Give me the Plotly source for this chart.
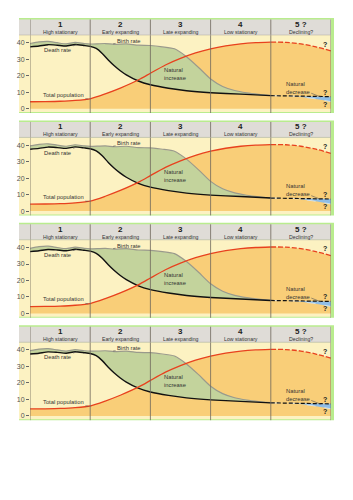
import plotly.graph_objects as go

W, H = 353, 500

# ---------------- data ----------------
stage_numbers = ["1", "2", "3", "4", "5 ?"]
stage_names = ["High stationary", "Early expanding", "Late expanding", "Low stationary", "Declining?"]
stage_centers = [0.5, 1.5, 2.5, 3.5, 4.5]
stage_bounds = [0, 1, 2, 3, 4, 5]
y_ticks = [0, 10, 20, 30, 40]

birth_x = [0, 0.15, 0.3, 0.45, 0.6, 0.75, 0.9, 1.0, 1.25, 1.4, 1.6, 1.8, 2.0, 2.2, 2.4, 2.6, 2.8, 3.0, 3.2, 3.4, 3.6, 3.8, 4.0]
birth_y = [39.5, 40.5, 40.8, 40.0, 39.3, 40.2, 39.5, 39.2, 39.5, 39.0, 39.3, 38.5, 38.3, 37.5, 36.3, 31.5, 25.0, 18.0, 13.5, 11.0, 9.6, 8.7, 8.0]

death_x = [0, 0.15, 0.3, 0.45, 0.6, 0.75, 0.9, 1.0, 1.1, 1.2, 1.3, 1.4, 1.5, 1.6, 1.8, 2.0, 2.3, 2.6, 3.0, 3.5, 4.0]
death_y = [37.5, 38.0, 38.8, 38.5, 38.0, 38.9, 38.3, 37.8, 36.5, 33.5, 29.5, 26.0, 23.0, 20.5, 16.8, 14.5, 12.4, 10.9, 9.7, 8.8, 7.9]

death5_x = [4.0, 4.5, 5.0]
death5_y = [7.9, 7.6, 7.3]
birth5_x = [4.0, 4.4, 4.7, 5.0]
birth5_y = [7.9, 7.6, 6.2, 4.3]

pop_x = [0, 0.25, 0.5, 0.75, 1.0, 1.25, 1.5, 1.83, 2.0, 2.25, 2.5, 2.75, 3.0, 3.25, 3.5, 3.75, 4.0]
pop_y = [4.2, 4.3, 4.5, 5.0, 6.0, 9.0, 12.5, 18.0, 21.5, 26.5, 30.5, 33.8, 36.3, 38.1, 39.3, 40.0, 40.3]
pop5_x = [4.0, 4.25, 4.5, 4.75, 5.0]
pop5_y = [40.3, 40.2, 39.3, 37.5, 35.0]

# ---------------- style ----------------
PALE = "#fcf2c2"
ORANGE = "#f9ce78"
GREEN = "#c3d39c"
BLUE = "#8fbde6"
HEADER = "#dfdcd7"
BORDER = "#b9ec8e"
STAGE_LINE = "#6e675c"
TXT = "#333333"
FONT = "Liberation Sans, Arial, sans-serif"

PANEL_STEP = 102.4
N = 4

fig = go.Figure()
shapes = []
annotations = []


def px_x(p):
    return p / W


def px_y(p):
    return 1 - p / H


for i in range(N):
    n = i + 1
    off = i * PANEL_STEP
    xa = "x" if n == 1 else f"x{n}"
    ya = "y" if n == 1 else f"y{n}"
    base = 18 + off
    head_top = base + 1.5
    head_bot = base + 17
    plot_bot = base + 93

    fig.update_layout(**{
        ("xaxis" if n == 1 else f"xaxis{n}"): dict(
            domain=[px_x(30), px_x(331)], range=[0, 5], anchor=ya,
            showticklabels=False, showgrid=False, zeroline=False, showline=False,
            fixedrange=True),
        ("yaxis" if n == 1 else f"yaxis{n}"): dict(
            domain=[px_y(plot_bot), px_y(head_bot)], range=[-1.4, 44.67], anchor=xa,
            tickvals=y_ticks, ticks="outside", ticklen=3, tickwidth=0.8, tickcolor="#666",
            tickfont=dict(size=7, color="#555", family=FONT),
            showgrid=False, zeroline=False, showline=False, fixedrange=True),
    })

    # background shapes
    shapes.append(dict(type="rect", xref="paper", yref="paper", layer="below",
                       x0=px_x(19), x1=px_x(334), y0=px_y(plot_bot + 2), y1=px_y(base),
                       fillcolor=BORDER, line=dict(width=0)))
    shapes.append(dict(type="rect", xref="paper", yref="paper", layer="below",
                       x0=px_x(19), x1=px_x(331), y0=px_y(plot_bot + 1), y1=px_y(head_bot),
                       fillcolor=PALE, line=dict(width=0)))
    shapes.append(dict(type="rect", xref="paper", yref="paper", layer="below",
                       x0=px_x(19), x1=px_x(331), y0=px_y(head_bot), y1=px_y(head_top),
                       fillcolor=HEADER, line=dict(width=0)))
    for b in stage_bounds:
        shapes.append(dict(type="line", xref=xa, yref="paper", layer="above",
                           x0=b, x1=b, y0=px_y(plot_bot + 2), y1=px_y(head_top),
                           line=dict(color=STAGE_LINE, width=0.8)))
    shapes.append(dict(type="line", xref="paper", yref="paper", layer="above",
                       x0=px_x(19), x1=px_x(331), y0=px_y(head_bot), y1=px_y(head_bot),
                       line=dict(color="#b8b3a8", width=0.6)))

    # fills
    fig.add_trace(go.Scatter(x=pop_x + pop5_x[1:], y=pop_y + pop5_y[1:], fill="tozeroy",
                             fillcolor=ORANGE, line=dict(width=0), mode="lines",
                             xaxis=xa, yaxis=ya, hoverinfo="skip"))
    fig.add_trace(go.Scatter(x=death_x, y=death_y, mode="lines", line=dict(width=0),
                             xaxis=xa, yaxis=ya, hoverinfo="skip"))
    fig.add_trace(go.Scatter(x=birth_x, y=birth_y, mode="lines", fill="tonexty",
                             fillcolor=GREEN, line=dict(width=0),
                             xaxis=xa, yaxis=ya, hoverinfo="skip"))
    fig.add_trace(go.Scatter(x=death5_x, y=death5_y, mode="lines", line=dict(width=0),
                             xaxis=xa, yaxis=ya, hoverinfo="skip"))
    fig.add_trace(go.Scatter(x=birth5_x, y=birth5_y, mode="lines", fill="tonexty",
                             fillcolor=BLUE, line=dict(width=0),
                             xaxis=xa, yaxis=ya, hoverinfo="skip"))

    # lines
    fig.add_trace(go.Scatter(x=birth_x, y=birth_y, mode="lines",
                             line=dict(color="#9a9a8c", width=1.2, shape="spline", smoothing=0.6),
                             xaxis=xa, yaxis=ya, hoverinfo="skip"))
    fig.add_trace(go.Scatter(x=birth5_x, y=birth5_y, mode="lines",
                             line=dict(color="#d7e8f6", width=0.8, dash="dash"),
                             xaxis=xa, yaxis=ya, hoverinfo="skip"))
    fig.add_trace(go.Scatter(x=death_x, y=death_y, mode="lines",
                             line=dict(color="#111111", width=1.4, shape="spline", smoothing=0.6),
                             xaxis=xa, yaxis=ya, hoverinfo="skip"))
    fig.add_trace(go.Scatter(x=death5_x, y=death5_y, mode="lines",
                             line=dict(color="#111111", width=1.2, dash="4px,2px"),
                             xaxis=xa, yaxis=ya, hoverinfo="skip"))
    fig.add_trace(go.Scatter(x=pop_x, y=pop_y, mode="lines",
                             line=dict(color="#e8411e", width=1.3, shape="spline", smoothing=0.6),
                             xaxis=xa, yaxis=ya, hoverinfo="skip"))
    fig.add_trace(go.Scatter(x=pop5_x, y=pop5_y, mode="lines",
                             line=dict(color="#e8411e", width=1.3, dash="5px,2px", shape="spline"),
                             xaxis=xa, yaxis=ya, hoverinfo="skip"))

    # header text
    for c, num, name in zip(stage_centers, stage_numbers, stage_names):
        annotations.append(dict(xref=xa, yref="paper", x=c, y=px_y(base + 6.5),
                                yanchor="middle", text=f"<b>{num}</b>", showarrow=False,
                                font=dict(size=8, color="#222", family=FONT)))
        annotations.append(dict(xref=xa, yref="paper", x=c, y=px_y(base + 13.7),
                                yanchor="middle", text=name, showarrow=False,
                                font=dict(size=5.2, color="#333", family=FONT)))

    lab_font = dict(size=5.8, color=TXT, family=FONT)
    annotations += [
        dict(xref=xa, yref=ya, x=1.38, y=39.3, ax=16, ay=-3, text="Birth rate",
             showarrow=True, arrowhead=0, arrowwidth=0.6, arrowcolor="#555", font=lab_font),
        dict(xref=xa, yref=ya, x=0.78, y=38.8, ax=-19, ay=5.5, text="Death rate",
             showarrow=True, arrowhead=0, arrowwidth=0.6, arrowcolor="#555", font=lab_font),
        dict(xref=xa, yref=ya, x=0.97, y=5.8, ax=-25, ay=-4.5, text="Total population",
             showarrow=True, arrowhead=0, arrowwidth=0.6, arrowcolor="#555", font=lab_font),
        dict(xref=xa, yref=ya, x=2.2, y=21, xanchor="left", text="Natural<br>increase",
             showarrow=False, align="left", font=lab_font),
        dict(xref=xa, yref=ya, x=4.83, y=7.1, ax=-23, ay=-9, text="Natural<br>decrease",
             showarrow=True, arrowhead=0, arrowwidth=0.6, arrowcolor="#555", align="left",
             font=lab_font),
        dict(xref=xa, yref=ya, x=4.9, y=39.2, text="<b>?</b>", showarrow=False,
             font=dict(size=7, color="#222", family=FONT)),
        dict(xref=xa, yref=ya, x=4.9, y=10.0, text="<b>?</b>", showarrow=False,
             font=dict(size=7, color="#222", family=FONT)),
        dict(xref=xa, yref=ya, x=4.9, y=2.8, text="<b>?</b>", showarrow=False,
             font=dict(size=7, color="#222", family=FONT)),
    ]

fig.update_layout(
    width=W, height=H,
    margin=dict(l=0, r=0, t=0, b=0),
    paper_bgcolor="white",
    plot_bgcolor="rgba(0,0,0,0)",
    showlegend=False,
    shapes=shapes,
    annotations=annotations,
    font=dict(family=FONT),
)

fig.write_html("out.html")
